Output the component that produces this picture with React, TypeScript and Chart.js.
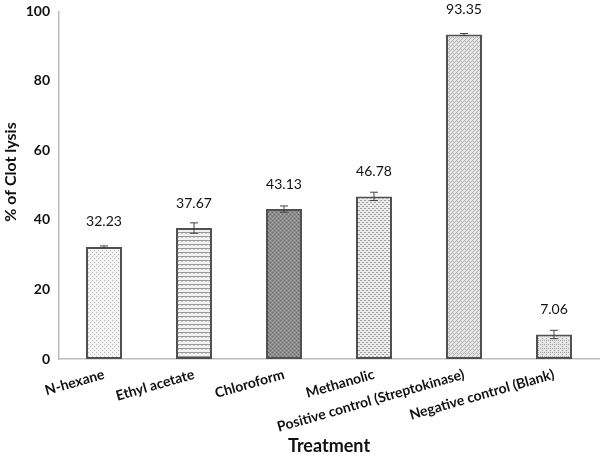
import React, { useEffect, useRef } from "react";
import { Chart, registerables } from "chart.js";

Chart.register(...registerables);

const categories = [
  "N-hexane",
  "Ethyl acetate",
  "Chloroform",
  "Methanolic",
  "Positive control (Streptokinase)",
  "Negative control (Blank)",
];
const values = [32.23, 37.67, 43.13, 46.78, 93.35, 7.06];
const errors = [0.3, 1.5, 0.9, 1.2, 0.3, 1.2];
const valueLabels = ["32.23", "37.67", "43.13", "46.78", "93.35", "7.06"];
const yTicks = [0, 20, 40, 60, 80, 100];
const yTitle = "% of Clot lysis";
const xTitle = "Treatment";

function makePattern(kind: string): CanvasPattern | string {
  const c = document.createElement("canvas");
  const s = 4;
  c.width = s;
  c.height = s;
  const g = c.getContext("2d");
  if (!g) return "#ddd";
  if (kind === "dots") {
    g.fillStyle = "#f4f4f4";
    g.fillRect(0, 0, s, s);
    g.fillStyle = "#b8b8b8";
    g.fillRect(0, 0, 1, 1);
    g.fillRect(2, 2, 1, 1);
  } else if (kind === "hlines") {
    g.fillStyle = "#f2f2f2";
    g.fillRect(0, 0, s, s);
    g.fillStyle = "#9a9a9a";
    g.fillRect(0, 0, 4, 1);
    g.fillStyle = "#c8c8c8";
    g.fillRect(1, 1, 2, 1);
  } else if (kind === "dark") {
    g.fillStyle = "#8c8c8c";
    g.fillRect(0, 0, s, s);
    g.fillStyle = "#6a6a6a";
    g.fillRect(0, 0, 1, 1);
    g.fillRect(2, 2, 1, 1);
    g.fillStyle = "#a8a8a8";
    g.fillRect(2, 0, 1, 1);
    g.fillRect(0, 2, 1, 1);
  } else if (kind === "dash") {
    g.fillStyle = "#ececec";
    g.fillRect(0, 0, s, s);
    g.fillStyle = "#a0a0a0";
    g.fillRect(0, 0, 2, 1);
    g.fillRect(2, 2, 2, 1);
  } else if (kind === "cross") {
    g.fillStyle = "#e4e4e4";
    g.fillRect(0, 0, s, s);
    g.fillStyle = "#b4b4b4";
    g.fillRect(0, 0, 1, 1);
    g.fillRect(1, 1, 1, 1);
    g.fillRect(2, 2, 1, 1);
    g.fillRect(3, 1, 1, 1);
    g.fillRect(1, 3, 1, 1);
  } else {
    g.fillStyle = "#e6e6e6";
    g.fillRect(0, 0, s, s);
    g.fillStyle = "#a4a4a4";
    g.fillRect(0, 0, 1, 1);
    g.fillRect(2, 2, 1, 1);
    g.fillRect(2, 0, 1, 1);
  }
  const p = g.createPattern(c, "repeat");
  return p || "#ddd";
}

const patternKinds = ["dots", "hlines", "dark", "dash", "cross", "dots2"];

const extrasPlugin = {
  id: "extras",
  afterDatasetsDraw(chart: any) {
    const ctx = chart.ctx;
    const meta = chart.getDatasetMeta(0);
    const y = chart.scales.y;
    ctx.save();
    meta.data.forEach((bar: any, i: number) => {
      const x = bar.x;
      const hi = y.getPixelForValue(values[i] + errors[i]);
      const lo = y.getPixelForValue(values[i] - errors[i]);
      ctx.strokeStyle = "#444";
      ctx.lineWidth = 1;
      ctx.beginPath();
      ctx.moveTo(x, hi);
      ctx.lineTo(x, lo);
      ctx.moveTo(x - 4, hi);
      ctx.lineTo(x + 4, hi);
      ctx.moveTo(x - 4, lo);
      ctx.lineTo(x + 4, lo);
      ctx.stroke();
      ctx.fillStyle = "#111";
      ctx.font = "14px Lato";
      ctx.textAlign = "center";
      ctx.textBaseline = "middle";
      ctx.fillText(valueLabels[i], x, y.getPixelForValue(values[i]) - 25);
    });
    // y-axis title
    ctx.translate(11, 172);
    ctx.rotate(-Math.PI / 2);
    ctx.font = "bold 16px Lato";
    ctx.fillStyle = "#111";
    ctx.textAlign = "center";
    ctx.textBaseline = "middle";
    ctx.fillText(yTitle, 0, 0);
    ctx.restore();
  },
};

export default function App() {
  const ref = useRef<HTMLCanvasElement>(null);
  useEffect(() => {
    document.body.style.margin = "0";
    const canvas = ref.current;
    if (!canvas) return;
    const chart = new Chart(canvas, {
      type: "bar",
      data: {
        labels: categories,
        datasets: [
          {
            data: values,
            backgroundColor: patternKinds.map((k) => makePattern(k)) as any,
            borderColor: "#505050",
            borderWidth: 2,
            borderSkipped: false,
            barPercentage: 0.4,
            categoryPercentage: 1,
          },
        ],
      },
      options: {
        animation: false,
        responsive: false,
        maintainAspectRatio: false,
        layout: { padding: { top: 8, right: 1, left: 0, bottom: 0 } },
        plugins: { legend: { display: false }, tooltip: { enabled: false } },
        scales: {
          x: {
            grid: { display: false, drawTicks: false },
            border: { color: "#bdbdbd", width: 1.5 },
            ticks: {
              color: "#111",
              font: { family: "Lato", size: 14, weight: "bold" },
              maxRotation: 16,
              minRotation: 16,
              autoSkip: false,
              padding: 7,
            },
            title: {
              display: true,
              text: xTitle,
              color: "#111",
              font: { family: "Lato", size: 18, weight: "bold" },
              padding: { top: 0, bottom: 5 },
            },
            afterFit: (s: any) => {
              s.height = 103;
            },
          },
          y: {
            min: 0,
            max: 100,
            afterBuildTicks: (s: any) => {
              s.ticks = yTicks.map((v) => ({ value: v }));
            },
            grid: { display: false, drawOnChartArea: false, drawTicks: true, tickLength: 6, color: "#bdbdbd" },
            border: { color: "#bdbdbd", width: 1.5 },
            ticks: {
              color: "#111",
              font: { family: "Lato", size: 14, weight: "bold" },
              padding: 3,
            },
            title: { display: false },
            afterFit: (s: any) => {
              s.width = 59;
            },
          },
        },
      },
      plugins: [extrasPlugin],
    });
    return () => chart.destroy();
  }, []);
  return (
    <div style={{ width: 600, height: 462, position: "relative" }}>
      <canvas ref={ref} width={600} height={462} style={{ width: 600, height: 462, display: "block" }} />
    </div>
  );
}
